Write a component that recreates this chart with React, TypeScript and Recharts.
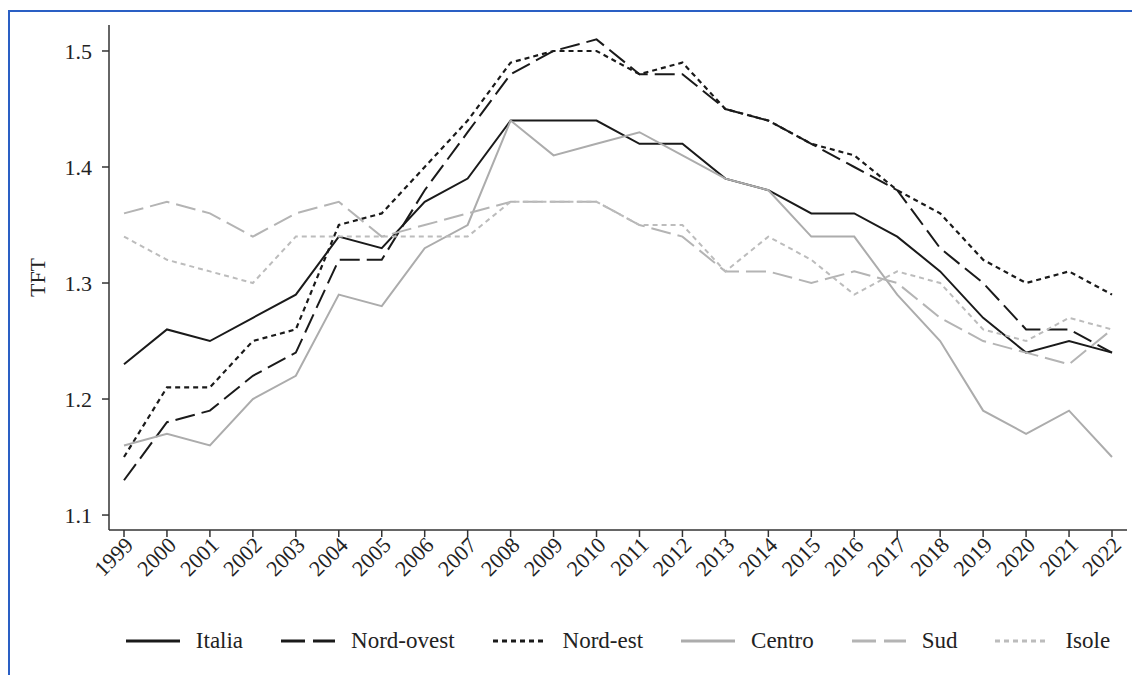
import React from 'react';
import { LineChart, Line, XAxis, YAxis, Legend } from 'recharts';

const years = [
  '1999', '2000', '2001', '2002', '2003', '2004', '2005', '2006', '2007', '2008', '2009', '2010',
  '2011', '2012', '2013', '2014', '2015', '2016', '2017', '2018', '2019', '2020', '2021', '2022',
];

const italia = [1.23, 1.26, 1.25, 1.27, 1.29, 1.34, 1.33, 1.37, 1.39, 1.44, 1.44, 1.44, 1.42, 1.42, 1.39, 1.38, 1.36, 1.36, 1.34, 1.31, 1.27, 1.24, 1.25, 1.24];
const nordOvest = [1.13, 1.18, 1.19, 1.22, 1.24, 1.32, 1.32, 1.38, 1.43, 1.48, 1.5, 1.51, 1.48, 1.48, 1.45, 1.44, 1.42, 1.4, 1.38, 1.33, 1.3, 1.26, 1.26, 1.24];
const nordEst = [1.15, 1.21, 1.21, 1.25, 1.26, 1.35, 1.36, 1.4, 1.44, 1.49, 1.5, 1.5, 1.48, 1.49, 1.45, 1.44, 1.42, 1.41, 1.38, 1.36, 1.32, 1.3, 1.31, 1.29];
const centro = [1.16, 1.17, 1.16, 1.2, 1.22, 1.29, 1.28, 1.33, 1.35, 1.44, 1.41, 1.42, 1.43, 1.41, 1.39, 1.38, 1.34, 1.34, 1.29, 1.25, 1.19, 1.17, 1.19, 1.15];
const sud = [1.36, 1.37, 1.36, 1.34, 1.36, 1.37, 1.34, 1.35, 1.36, 1.37, 1.37, 1.37, 1.35, 1.34, 1.31, 1.31, 1.3, 1.31, 1.3, 1.27, 1.25, 1.24, 1.23, 1.26];
const isole = [1.34, 1.32, 1.31, 1.3, 1.34, 1.34, 1.34, 1.34, 1.34, 1.37, 1.37, 1.37, 1.35, 1.35, 1.31, 1.34, 1.32, 1.29, 1.31, 1.3, 1.26, 1.25, 1.27, 1.26];

const yTicks = [1.1, 1.2, 1.3, 1.4, 1.5];

const series = [
  { key: 'Italia', values: italia, color: '#1a1a1a', dash: undefined, width: 2 },
  { key: 'Nord-ovest', values: nordOvest, color: '#1a1a1a', dash: '20 7', width: 2 },
  { key: 'Nord-est', values: nordEst, color: '#1a1a1a', dash: '5 4', width: 2.2 },
  { key: 'Centro', values: centro, color: '#acacac', dash: undefined, width: 2 },
  { key: 'Sud', values: sud, color: '#b4b4b4', dash: '20 7', width: 2 },
  { key: 'Isole', values: isole, color: '#bcbcbc', dash: '5 4', width: 2 },
];

const data = years.map((year, i) => {
  const row: Record<string, string | number> = { year };
  series.forEach((s) => {
    row[s.key] = s.values[i];
  });
  return row;
});

const FONT = '"Liberation Serif", "Times New Roman", serif';

const YearTick = (props: any) => {
  const { x, y, payload } = props;
  return (
    <g transform={`translate(${x + 5},${y + 2})`}>
      <text transform="rotate(-45)" textAnchor="end" dy="0.35em" fontFamily={FONT} fontSize={22} fill="#222">
        {payload.value}
      </text>
    </g>
  );
};

const renderLegend = () => (
  <div style={{ display: 'flex', justifyContent: 'center', alignItems: 'center', fontFamily: FONT, fontSize: 23, color: '#222' }}>
    {series.map((s, i) => (
      <div key={s.key} style={{ display: 'flex', alignItems: 'center', marginLeft: i === 0 ? 0 : 38 }}>
        <svg width={54} height={10}>
          <line x1={0} y1={5} x2={54} y2={5} stroke={s.color} strokeWidth={3} strokeDasharray={s.dash === '20 7' ? '24 8' : s.dash} />
        </svg>
        <span style={{ marginLeft: 16 }}>{s.key}</span>
      </div>
    ))}
  </div>
);

export default function App() {
  return (
    <div style={{ position: 'fixed', left: 0, top: 0, width: 1132, height: 675, overflow: 'hidden', background: '#fff' }}>
      <div
        style={{
          position: 'absolute',
          left: 8,
          top: 10,
          width: 1200,
          height: 700,
          borderTop: '2px solid #2a5fc4',
          borderLeft: '2px solid #2a5fc4',
        }}
      />
      <div style={{ position: 'absolute', left: 0, top: 0 }}>
        <LineChart width={1132} height={675} data={data} margin={{ top: 25, right: 5, left: 0, bottom: 45 }}>
          <XAxis
            dataKey="year"
            interval={0}
            padding={{ left: 15, right: 15 }}
            height={100}
            tickSize={7}
            tick={<YearTick />}
            axisLine={{ stroke: '#333', strokeWidth: 1.5 }}
            tickLine={{ stroke: '#333', strokeWidth: 1.5 }}
          />
          <YAxis
            type="number"
            domain={[1.0871, 1.5224]}
            allowDataOverflow
            ticks={yTicks}
            tickFormatter={(v: number) => v.toFixed(1)}
            width={109}
            tickSize={7}
            tickMargin={10}
            axisLine={{ stroke: '#333', strokeWidth: 1.5 }}
            tickLine={{ stroke: '#333', strokeWidth: 1.5 }}
            tick={{ fontFamily: FONT, fontSize: 22, fill: '#222' }}
            label={{
              content: (p: any) => {
                const vb = p.viewBox || { x: 0, y: 25, width: 109, height: 505 };
                const cx = 37;
                const cy = vb.y + vb.height / 2;
                return (
                  <text x={cx} y={cy} transform={`rotate(-90 ${cx} ${cy})`} textAnchor="middle" dominantBaseline="central" fontFamily={FONT} fontSize={22} fill="#222">
                    TFT
                  </text>
                );
              },
            }}
          />
          <Legend
            layout="horizontal"
            verticalAlign="middle"
            align="center"
            content={renderLegend}
            wrapperStyle={{ position: 'absolute', top: 628, left: 109, width: 1018 }}
          />
          {series.map((s) => (
            <Line
              key={s.key}
              type="linear"
              dataKey={s.key}
              stroke={s.color}
              strokeWidth={s.width}
              strokeDasharray={s.dash}
              dot={false}
              activeDot={false}
              isAnimationActive={false}
            />
          ))}
        </LineChart>
      </div>
    </div>
  );
}
